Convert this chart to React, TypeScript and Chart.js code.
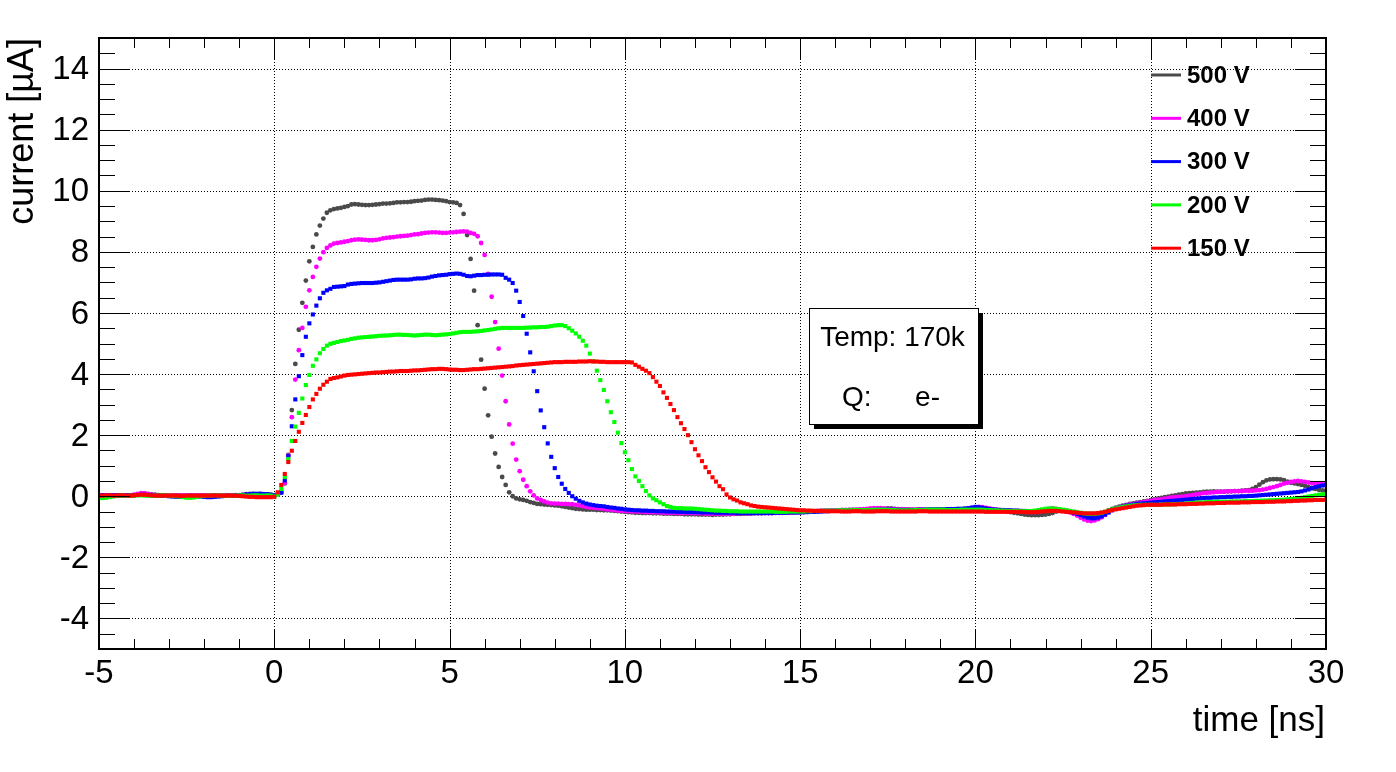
import { useEffect, useRef } from "react";
import { Chart, registerables } from "chart.js";

Chart.register(...registerables);

// ---------- data (time grid: -5.0 ns .. 30.0 ns, 0.1 ns steps) ----------
const T_START = -5;
const T_STEP = 0.1;

const SERIES_LABELS = ["500 V", "400 V", "300 V", "200 V", "150 V"];
const SERIES_COLORS = ["#4a4a4a", "#ff00ff", "#0000ff", "#00ff00", "#ff0000"];

const current500V = [
  0.02, 0.03, 0.03, 0.02, 0.03, 0.02, 0.02, 0.03, 0.03, 0.02,
  0.04, 0.06, 0.08, 0.09, 0.08, 0.06, 0.05, 0.04, 0.03, 0.03,
  0.02, 0.02, 0.03, 0.03, 0.02, 0.02, 0.03, 0.02, 0.02, 0.03,
  0.03, 0.02, 0.02, 0.03, 0.03, 0.02, 0.03, 0.02, 0.03, 0.04,
  0.04, 0.05, 0.07, 0.08, 0.08, 0.07, 0.08, 0.07, 0.06, 0.05,
  0.03, 0.08, 0.12, 0.42, 1.35, 2.82, 4.33, 5.45, 6.33, 7.06,
  7.69, 8.16, 8.57, 8.86, 9.09, 9.28, 9.36, 9.40, 9.42, 9.44,
  9.47, 9.50, 9.55, 9.56, 9.55, 9.54, 9.53, 9.53, 9.54, 9.55,
  9.56, 9.58, 9.58, 9.59, 9.60, 9.62, 9.62, 9.63, 9.63, 9.64,
  9.66, 9.67, 9.68, 9.70, 9.71, 9.71, 9.70, 9.69, 9.68, 9.66,
  9.63, 9.62, 9.60, 9.53, 9.24, 8.55, 7.77, 6.73, 5.60, 4.47,
  3.52, 2.65, 1.95, 1.40, 0.96, 0.63, 0.37, 0.13, 0.00, -0.07,
  -0.10, -0.12, -0.15, -0.19, -0.22, -0.25, -0.26, -0.27, -0.28, -0.29,
  -0.30, -0.31, -0.33, -0.35, -0.37, -0.39, -0.41, -0.42, -0.43, -0.44,
  -0.44, -0.44, -0.45, -0.45, -0.46, -0.46, -0.47, -0.48, -0.49, -0.50,
  -0.51, -0.52, -0.53, -0.54, -0.54, -0.55, -0.55, -0.55, -0.56, -0.56,
  -0.56, -0.57, -0.57, -0.57, -0.58, -0.58, -0.58, -0.59, -0.59, -0.59,
  -0.59, -0.60, -0.60, -0.60, -0.60, -0.61, -0.60, -0.60, -0.60, -0.59,
  -0.59, -0.58, -0.58, -0.58, -0.57, -0.57, -0.57, -0.56, -0.56, -0.56,
  -0.55, -0.55, -0.55, -0.54, -0.54, -0.54, -0.53, -0.53, -0.53, -0.52,
  -0.52, -0.52, -0.51, -0.51, -0.50, -0.50, -0.49, -0.48, -0.48, -0.47,
  -0.47, -0.46, -0.46, -0.46, -0.45, -0.45, -0.45, -0.44, -0.44, -0.44,
  -0.43, -0.42, -0.42, -0.41, -0.41, -0.40, -0.40, -0.41, -0.42, -0.42,
  -0.43, -0.43, -0.44, -0.44, -0.44, -0.45, -0.45, -0.45, -0.45, -0.44,
  -0.44, -0.43, -0.43, -0.42, -0.42, -0.42, -0.43, -0.43, -0.44, -0.44,
  -0.44, -0.43, -0.42, -0.42, -0.43, -0.44, -0.45, -0.46, -0.48, -0.50,
  -0.52, -0.54, -0.56, -0.58, -0.60, -0.61, -0.62, -0.62, -0.62, -0.61,
  -0.60, -0.58, -0.55, -0.50, -0.47, -0.46, -0.47, -0.49, -0.52, -0.55,
  -0.58, -0.62, -0.65, -0.67, -0.66, -0.63, -0.58, -0.52, -0.46, -0.41,
  -0.37, -0.34, -0.31, -0.28, -0.25, -0.23, -0.21, -0.19, -0.17, -0.15,
  -0.13, -0.10, -0.08, -0.05, -0.03, -0.01, 0.01, 0.03, 0.05, 0.07,
  0.09, 0.10, 0.11, 0.12, 0.13, 0.14, 0.15, 0.15, 0.16, 0.15,
  0.15, 0.15, 0.16, 0.16, 0.17, 0.17, 0.18, 0.19, 0.20, 0.24,
  0.30, 0.38, 0.46, 0.52, 0.55, 0.56, 0.56, 0.55, 0.53, 0.48,
  0.44, 0.42, 0.40, 0.37, 0.34, 0.30, 0.27, 0.24, 0.21, 0.19,
  0.18,
];

const current400V = [
  0.02, 0.03, 0.03, 0.02, 0.02, 0.03, 0.03, 0.02, 0.02, 0.03,
  0.05, 0.08, 0.10, 0.09, 0.07, 0.05, 0.04, 0.03, 0.03, 0.02,
  0.02, 0.03, 0.02, 0.02, 0.03, 0.03, 0.02, 0.02, 0.03, 0.03,
  0.02, 0.03, 0.03, 0.02, 0.02, 0.03, 0.03, 0.03, 0.02, 0.03,
  0.03, 0.04, 0.05, 0.05, 0.06, 0.05, 0.05, 0.04, 0.04, 0.03,
  0.02, 0.08, 0.13, 0.44, 1.33, 2.59, 3.82, 4.78, 5.51, 6.20,
  6.74, 7.18, 7.51, 7.78, 7.99, 8.13, 8.21, 8.27, 8.29, 8.31,
  8.33, 8.35, 8.38, 8.40, 8.41, 8.40, 8.39, 8.38, 8.38, 8.39,
  8.41, 8.44, 8.46, 8.47, 8.48, 8.50, 8.51, 8.52, 8.53, 8.55,
  8.57, 8.58, 8.60, 8.62, 8.63, 8.64, 8.64, 8.63, 8.62, 8.62,
  8.63, 8.64, 8.65, 8.66, 8.67, 8.66, 8.62, 8.59, 8.51, 8.29,
  7.90, 7.28, 6.53, 5.70, 4.83, 3.95, 3.11, 2.35, 1.72, 1.20,
  0.82, 0.54, 0.33, 0.16, 0.03, -0.07, -0.12, -0.17, -0.21, -0.23,
  -0.24, -0.24, -0.25, -0.25, -0.26, -0.26, -0.28, -0.30, -0.32, -0.35,
  -0.37, -0.38, -0.39, -0.40, -0.41, -0.43, -0.44, -0.46, -0.47, -0.48,
  -0.49, -0.49, -0.50, -0.50, -0.50, -0.51, -0.52, -0.52, -0.53, -0.53,
  -0.53, -0.54, -0.54, -0.54, -0.54, -0.55, -0.55, -0.55, -0.55, -0.55,
  -0.56, -0.56, -0.56, -0.57, -0.57, -0.57, -0.57, -0.57, -0.57, -0.57,
  -0.57, -0.57, -0.56, -0.56, -0.56, -0.56, -0.56, -0.55, -0.55, -0.55,
  -0.55, -0.55, -0.54, -0.54, -0.54, -0.54, -0.53, -0.53, -0.53, -0.53,
  -0.52, -0.52, -0.51, -0.50, -0.49, -0.48, -0.47, -0.46, -0.46, -0.46,
  -0.46, -0.46, -0.45, -0.45, -0.45, -0.44, -0.44, -0.43, -0.42, -0.41,
  -0.40, -0.39, -0.39, -0.39, -0.40, -0.41, -0.42, -0.42, -0.43, -0.43,
  -0.43, -0.44, -0.44, -0.44, -0.43, -0.43, -0.43, -0.44, -0.44, -0.44,
  -0.44, -0.44, -0.43, -0.43, -0.43, -0.43, -0.42, -0.41, -0.40, -0.38,
  -0.36, -0.35, -0.36, -0.38, -0.40, -0.42, -0.44, -0.45, -0.46, -0.47,
  -0.47, -0.48, -0.48, -0.49, -0.50, -0.51, -0.52, -0.52, -0.50, -0.47,
  -0.44, -0.41, -0.40, -0.41, -0.44, -0.47, -0.50, -0.53, -0.58, -0.63,
  -0.70, -0.76, -0.80, -0.81, -0.79, -0.75, -0.69, -0.61, -0.52, -0.45,
  -0.40, -0.36, -0.33, -0.30, -0.27, -0.25, -0.23, -0.21, -0.19, -0.17,
  -0.15, -0.13, -0.11, -0.10, -0.08, -0.06, -0.04, -0.03, -0.02, -0.01,
  0.00, 0.02, 0.04, 0.06, 0.08, 0.10, 0.11, 0.12, 0.13, 0.14,
  0.15, 0.15, 0.16, 0.16, 0.17, 0.17, 0.17, 0.18, 0.18, 0.18,
  0.19, 0.20, 0.22, 0.24, 0.27, 0.30, 0.33, 0.37, 0.41, 0.44,
  0.47, 0.49, 0.50, 0.49, 0.47, 0.45, 0.43, 0.42, 0.41, 0.40,
  0.40,
];

const current300V = [
  0.03, 0.03, 0.02, 0.02, 0.03, 0.03, 0.02, 0.02, 0.03, 0.03,
  0.03, 0.04, 0.05, 0.05, 0.04, 0.03, 0.02, 0.02, 0.01, 0.01,
  0.00, -0.01, -0.02, -0.02, -0.01, 0.00, 0.01, 0.01, 0.00, -0.01,
  -0.02, -0.03, -0.03, -0.02, -0.01, 0.00, 0.01, 0.02, 0.02, 0.02,
  0.03, 0.04, 0.06, 0.07, 0.08, 0.08, 0.08, 0.07, 0.07, 0.05,
  0.03, 0.07, 0.12, 0.52, 1.31, 2.29, 3.17, 3.93, 4.62, 5.22,
  5.66, 5.95, 6.24, 6.48, 6.66, 6.74, 6.79, 6.85, 6.86, 6.87,
  6.88, 6.93, 6.95, 6.96, 6.97, 6.98, 6.98, 6.98, 6.98, 6.99,
  7.00, 7.02, 7.04, 7.06, 7.08, 7.09, 7.09, 7.09, 7.09, 7.10,
  7.12, 7.13, 7.13, 7.14, 7.16, 7.19, 7.21, 7.23, 7.24, 7.25,
  7.27, 7.28, 7.29, 7.28, 7.25, 7.21, 7.20, 7.22, 7.24, 7.24,
  7.25, 7.25, 7.26, 7.26, 7.26, 7.25, 7.15, 7.09, 6.98, 6.73,
  6.36, 5.90, 5.32, 4.71, 4.09, 3.44, 2.81, 2.26, 1.73, 1.29,
  0.92, 0.63, 0.41, 0.24, 0.11, 0.00, -0.08, -0.15, -0.20, -0.24,
  -0.27, -0.29, -0.31, -0.32, -0.33, -0.35, -0.37, -0.38, -0.40, -0.41,
  -0.43, -0.44, -0.45, -0.46, -0.46, -0.47, -0.47, -0.48, -0.48, -0.49,
  -0.49, -0.49, -0.50, -0.50, -0.50, -0.51, -0.51, -0.51, -0.52, -0.52,
  -0.52, -0.52, -0.53, -0.53, -0.53, -0.53, -0.54, -0.54, -0.54, -0.54,
  -0.54, -0.54, -0.55, -0.55, -0.55, -0.55, -0.55, -0.55, -0.55, -0.55,
  -0.55, -0.55, -0.55, -0.54, -0.54, -0.54, -0.54, -0.53, -0.53, -0.53,
  -0.53, -0.52, -0.52, -0.51, -0.51, -0.50, -0.50, -0.49, -0.49, -0.48,
  -0.48, -0.48, -0.47, -0.47, -0.47, -0.46, -0.46, -0.46, -0.46, -0.45,
  -0.45, -0.45, -0.44, -0.44, -0.44, -0.44, -0.44, -0.44, -0.45, -0.45,
  -0.45, -0.45, -0.45, -0.45, -0.44, -0.44, -0.44, -0.43, -0.43, -0.43,
  -0.43, -0.43, -0.42, -0.42, -0.42, -0.41, -0.41, -0.40, -0.39, -0.37,
  -0.35, -0.36, -0.38, -0.40, -0.42, -0.43, -0.44, -0.45, -0.45, -0.46,
  -0.46, -0.47, -0.47, -0.48, -0.48, -0.49, -0.49, -0.49, -0.48, -0.47,
  -0.46, -0.45, -0.44, -0.44, -0.45, -0.47, -0.49, -0.51, -0.54, -0.58,
  -0.62, -0.66, -0.70, -0.72, -0.72, -0.70, -0.66, -0.60, -0.53, -0.46,
  -0.41, -0.37, -0.34, -0.31, -0.29, -0.27, -0.25, -0.24, -0.23, -0.22,
  -0.21, -0.20, -0.19, -0.18, -0.17, -0.16, -0.15, -0.14, -0.13, -0.12,
  -0.11, -0.10, -0.09, -0.08, -0.07, -0.06, -0.05, -0.05, -0.04, -0.04,
  -0.03, -0.03, -0.02, -0.02, -0.01, -0.01, 0.00, 0.00, 0.01, 0.01,
  0.02, 0.03, 0.04, 0.05, 0.06, 0.07, 0.08, 0.09, 0.10, 0.11,
  0.12, 0.13, 0.14, 0.16, 0.19, 0.22, 0.26, 0.30, 0.33, 0.35,
  0.37,
];

const current200V = [
  -0.05, -0.06, -0.05, -0.03, -0.01, 0.01, 0.02, 0.02, 0.01, 0.02,
  0.02, 0.03, 0.03, 0.02, 0.02, 0.01, 0.02, 0.02, 0.03, 0.02,
  0.02, 0.01, 0.00, -0.01, -0.03, -0.05, -0.05, -0.04, -0.02, 0.00,
  0.01, 0.02, 0.02, 0.03, 0.03, 0.02, 0.02, 0.01, 0.02, 0.02,
  0.03, 0.03, 0.02, 0.02, 0.03, 0.03, 0.02, 0.02, 0.03, 0.02,
  0.00, 0.05, 0.24, 0.63, 1.22, 1.81, 2.28, 2.73, 3.20, 3.64,
  3.97, 4.27, 4.48, 4.68, 4.82, 4.93, 4.99, 5.02, 5.05, 5.08,
  5.10, 5.12, 5.15, 5.17, 5.19, 5.20, 5.21, 5.22, 5.23, 5.24,
  5.25, 5.26, 5.26, 5.27, 5.28, 5.29, 5.29, 5.28, 5.28, 5.27,
  5.26, 5.27, 5.28, 5.29, 5.29, 5.28, 5.27, 5.28, 5.29, 5.30,
  5.31, 5.33, 5.35, 5.37, 5.38, 5.38, 5.38, 5.39, 5.40, 5.41,
  5.43, 5.44, 5.46, 5.48, 5.50, 5.51, 5.51, 5.51, 5.51, 5.51,
  5.51, 5.51, 5.52, 5.52, 5.53, 5.53, 5.54, 5.54, 5.55, 5.57,
  5.59, 5.60, 5.60, 5.57, 5.50, 5.42, 5.33, 5.22, 5.09, 4.93,
  4.67, 4.42, 4.11, 3.80, 3.48, 3.11, 2.75, 2.43, 2.08, 1.74,
  1.44, 1.18, 0.89, 0.65, 0.50, 0.33, 0.17, 0.03, -0.07, -0.13,
  -0.20, -0.26, -0.32, -0.35, -0.38, -0.39, -0.39, -0.40, -0.40, -0.40,
  -0.41, -0.42, -0.43, -0.44, -0.45, -0.46, -0.47, -0.47, -0.48, -0.48,
  -0.49, -0.49, -0.49, -0.50, -0.50, -0.50, -0.50, -0.50, -0.50, -0.50,
  -0.50, -0.50, -0.50, -0.51, -0.51, -0.51, -0.51, -0.50, -0.50, -0.50,
  -0.50, -0.50, -0.49, -0.49, -0.48, -0.48, -0.48, -0.47, -0.47, -0.47,
  -0.47, -0.46, -0.46, -0.46, -0.46, -0.45, -0.45, -0.45, -0.45, -0.45,
  -0.45, -0.44, -0.44, -0.44, -0.44, -0.45, -0.45, -0.45, -0.46, -0.46,
  -0.46, -0.46, -0.46, -0.45, -0.45, -0.45, -0.44, -0.44, -0.44, -0.44,
  -0.44, -0.44, -0.45, -0.45, -0.45, -0.45, -0.44, -0.44, -0.44, -0.44,
  -0.44, -0.44, -0.44, -0.45, -0.45, -0.46, -0.46, -0.47, -0.47, -0.48,
  -0.48, -0.48, -0.48, -0.49, -0.49, -0.49, -0.48, -0.47, -0.45, -0.43,
  -0.41, -0.40, -0.40, -0.41, -0.42, -0.44, -0.46, -0.48, -0.50, -0.52,
  -0.54, -0.56, -0.57, -0.57, -0.57, -0.56, -0.54, -0.51, -0.47, -0.43,
  -0.40, -0.37, -0.35, -0.33, -0.31, -0.30, -0.29, -0.28, -0.28, -0.28,
  -0.28, -0.28, -0.28, -0.27, -0.27, -0.27, -0.26, -0.26, -0.25, -0.25,
  -0.24, -0.23, -0.22, -0.21, -0.20, -0.20, -0.19, -0.19, -0.18, -0.18,
  -0.18, -0.18, -0.18, -0.17, -0.17, -0.17, -0.17, -0.16, -0.16, -0.16,
  -0.15, -0.15, -0.14, -0.14, -0.13, -0.13, -0.12, -0.12, -0.11, -0.10,
  -0.09, -0.08, -0.07, -0.05, -0.03, -0.01, 0.01, 0.03, 0.05, 0.06,
  0.07,
];

const current150V = [
  0.02, 0.02, 0.03, 0.03, 0.02, 0.02, 0.03, 0.03, 0.02, 0.02,
  0.03, 0.04, 0.05, 0.05, 0.04, 0.03, 0.02, 0.02, 0.02, 0.02,
  0.02, 0.02, 0.02, 0.01, 0.01, 0.02, 0.02, 0.02, 0.02, 0.02,
  0.02, 0.02, 0.02, 0.03, 0.02, 0.02, 0.02, 0.02, 0.02, 0.02,
  0.01, 0.00, -0.01, -0.02, -0.02, -0.03, -0.03, -0.03, -0.03, -0.03,
  -0.02, 0.13, 0.37, 0.73, 1.12, 1.49, 1.81, 2.11, 2.40, 2.66,
  2.92, 3.17, 3.35, 3.52, 3.65, 3.75, 3.84, 3.87, 3.89, 3.92,
  3.95, 3.97, 3.98, 3.99, 4.00, 4.01, 4.02, 4.03, 4.04, 4.05,
  4.05, 4.06, 4.07, 4.08, 4.08, 4.09, 4.10, 4.10, 4.10, 4.11,
  4.12, 4.12, 4.13, 4.14, 4.15, 4.16, 4.16, 4.17, 4.17, 4.16,
  4.15, 4.14, 4.14, 4.13, 4.13, 4.14, 4.15, 4.16, 4.16, 4.17,
  4.18, 4.19, 4.20, 4.21, 4.22, 4.23, 4.24, 4.25, 4.26, 4.28,
  4.29, 4.30, 4.31, 4.32, 4.33, 4.34, 4.35, 4.36, 4.37, 4.38,
  4.39, 4.39, 4.39, 4.40, 4.40, 4.40, 4.40, 4.41, 4.41, 4.41,
  4.42, 4.41, 4.41, 4.40, 4.40, 4.39, 4.39, 4.39, 4.39, 4.39,
  4.39, 4.39, 4.38, 4.30, 4.24, 4.17, 4.11, 4.03, 3.90, 3.75,
  3.61, 3.40, 3.22, 3.02, 2.82, 2.59, 2.39, 2.20, 2.00, 1.77,
  1.54, 1.34, 1.15, 0.95, 0.79, 0.62, 0.48, 0.33, 0.23, 0.06,
  -0.04, -0.10, -0.14, -0.20, -0.23, -0.26, -0.30, -0.32, -0.34, -0.35,
  -0.36, -0.37, -0.38, -0.39, -0.40, -0.41, -0.42, -0.43, -0.44, -0.45,
  -0.46, -0.46, -0.47, -0.47, -0.48, -0.48, -0.48, -0.49, -0.49, -0.49,
  -0.49, -0.49, -0.50, -0.50, -0.50, -0.49, -0.49, -0.49, -0.50, -0.50,
  -0.50, -0.50, -0.49, -0.49, -0.49, -0.49, -0.50, -0.50, -0.50, -0.50,
  -0.50, -0.50, -0.50, -0.50, -0.49, -0.49, -0.49, -0.50, -0.50, -0.50,
  -0.50, -0.50, -0.50, -0.50, -0.50, -0.50, -0.50, -0.50, -0.50, -0.50,
  -0.50, -0.50, -0.50, -0.51, -0.51, -0.51, -0.51, -0.51, -0.51, -0.51,
  -0.51, -0.51, -0.51, -0.51, -0.52, -0.52, -0.52, -0.52, -0.51, -0.50,
  -0.49, -0.48, -0.48, -0.48, -0.49, -0.50, -0.51, -0.52, -0.53, -0.54,
  -0.55, -0.56, -0.56, -0.56, -0.56, -0.55, -0.53, -0.51, -0.48, -0.45,
  -0.43, -0.41, -0.39, -0.37, -0.35, -0.33, -0.31, -0.30, -0.29, -0.28,
  -0.28, -0.28, -0.28, -0.28, -0.27, -0.27, -0.27, -0.27, -0.26, -0.26,
  -0.26, -0.25, -0.25, -0.25, -0.24, -0.24, -0.23, -0.23, -0.23, -0.22,
  -0.22, -0.22, -0.21, -0.21, -0.21, -0.21, -0.20, -0.20, -0.20, -0.19,
  -0.19, -0.19, -0.19, -0.18, -0.18, -0.18, -0.17, -0.17, -0.17, -0.16,
  -0.16, -0.15, -0.15, -0.14, -0.14, -0.13, -0.13, -0.12, -0.12, -0.12,
  -0.11,
];

const X_MIN = -5;
const X_MAX = 30;
const Y_MIN = -5;
const Y_MAX = 15;
const X_TICK_LABELS = [-5, 0, 5, 10, 15, 20, 25, 30];
const Y_TICK_LABELS = [-4, -2, 0, 2, 4, 6, 8, 10, 12, 14];

const X_TITLE = "time [ns]";
const Y_TITLE = "current [\u00b5A]";
const INFO_LINE_1 = "Temp: 170k";
const INFO_Q_LABEL = "Q:";
const INFO_Q_VALUE = "e-";

const SERIES_VALUES = [current500V, current400V, current300V, current200V, current150V];

const FONT = '"Liberation Sans", Arial, Helvetica, sans-serif';

const rootStylePlugin = {
  id: "rootStyle",
  beforeDraw(chart: any) {
    const { ctx, width, height } = chart;
    ctx.save();
    ctx.fillStyle = "#ffffff";
    ctx.fillRect(0, 0, width, height);
    ctx.restore();
  },
  beforeDatasetsDraw(chart: any) {
    const { ctx, chartArea: a } = chart;
    const xs = chart.scales.x;
    const ys = chart.scales.y;
    ctx.save();
    ctx.strokeStyle = "#000";
    ctx.lineWidth = 1;
    ctx.setLineDash([1, 2]);
    for (const v of X_TICK_LABELS) {
      const px = Math.round(xs.getPixelForValue(v)) + 0.5;
      ctx.beginPath();
      ctx.moveTo(px, a.top);
      ctx.lineTo(px, a.bottom);
      ctx.stroke();
    }
    for (const v of Y_TICK_LABELS) {
      const py = Math.round(ys.getPixelForValue(v)) + 0.5;
      ctx.beginPath();
      ctx.moveTo(a.left, py);
      ctx.lineTo(a.right, py);
      ctx.stroke();
    }
    ctx.restore();
  },
  afterDatasetsDraw(chart: any) {
    const { ctx, chartArea: a } = chart;
    const xs = chart.scales.x;
    const ys = chart.scales.y;
    ctx.save();
    ctx.setLineDash([]);
    ctx.strokeStyle = "#000";

    // ticks (inside, all four sides)
    ctx.lineWidth = 1;
    ctx.beginPath();
    for (let k = X_MIN; k <= X_MAX; k += 1) {
      const px = Math.round(xs.getPixelForValue(k)) + 0.5;
      const major = k % 5 === 0;
      const lb = major ? 20 : 10;
      const lt = major ? 21 : 10;
      ctx.moveTo(px, a.bottom);
      ctx.lineTo(px, a.bottom - lb);
      ctx.moveTo(px, a.top);
      ctx.lineTo(px, a.top + lt);
    }
    for (let k = Y_MIN * 2; k <= Y_MAX * 2; k += 1) {
      const v = k / 2;
      const py = Math.round(ys.getPixelForValue(v)) + 0.5;
      const major = Number.isInteger(v) && v % 2 === 0;
      const len = major ? 31 : 16;
      ctx.moveTo(a.left, py);
      ctx.lineTo(a.left + len, py);
      ctx.moveTo(a.right, py);
      ctx.lineTo(a.right - len, py);
    }
    ctx.stroke();

    // frame
    ctx.lineWidth = 2;
    ctx.strokeRect(a.left, a.top, a.right - a.left, a.bottom - a.top);

    // tick labels
    ctx.fillStyle = "#000";
    ctx.font = `33px ${FONT}`;
    ctx.textAlign = "center";
    ctx.textBaseline = "alphabetic";
    for (const v of X_TICK_LABELS) {
      ctx.fillText(String(v), xs.getPixelForValue(v), a.bottom + 34);
    }
    ctx.textAlign = "right";
    ctx.textBaseline = "middle";
    for (const v of Y_TICK_LABELS) {
      ctx.fillText(String(v), a.left - 10, ys.getPixelForValue(v) + 1.5);
    }

    // axis titles
    ctx.font = `35px ${FONT}`;
    ctx.textAlign = "right";
    ctx.textBaseline = "alphabetic";
    ctx.fillText(X_TITLE, a.right - 1, 731);
    ctx.save();
    ctx.font = `36px ${FONT}`;
    ctx.translate(33, a.top);
    ctx.rotate(-Math.PI / 2);
    ctx.textAlign = "right";
    ctx.fillText(Y_TITLE, 0, 0);
    ctx.restore();

    // legend
    ctx.font = `bold 24px ${FONT}`;
    ctx.textAlign = "left";
    ctx.textBaseline = "middle";
    SERIES_LABELS.forEach((label, i) => {
      const ly = 75 + i * 43.3;
      ctx.strokeStyle = SERIES_COLORS[i];
      ctx.lineWidth = 3;
      ctx.beginPath();
      ctx.moveTo(1151, ly);
      ctx.lineTo(1181, ly);
      ctx.stroke();
      ctx.fillStyle = "#000";
      ctx.fillText(label, 1187, ly + 1);
    });

    // info box with shadow
    const bx = 809, by = 308, bw = 169, bh = 116;
    ctx.fillStyle = "#000";
    ctx.fillRect(bx + 5, by + 5, bw, bh);
    ctx.fillStyle = "#fff";
    ctx.fillRect(bx, by, bw, bh);
    ctx.strokeStyle = "#000";
    ctx.lineWidth = 1;
    ctx.strokeRect(bx + 0.5, by + 0.5, bw, bh);
    ctx.fillStyle = "#000";
    ctx.font = `28px ${FONT}`;
    ctx.textAlign = "center";
    ctx.textBaseline = "alphabetic";
    ctx.fillText(INFO_LINE_1, bx + bw / 2 - 1, 346);
    ctx.textAlign = "left";
    ctx.fillText(INFO_Q_LABEL, 842, 406);
    ctx.textAlign = "right";
    ctx.fillText(INFO_Q_VALUE, 940, 406);

    ctx.restore();
  },
};

export default function App() {
  const canvasRef = useRef<HTMLCanvasElement | null>(null);

  useEffect(() => {
    const canvas = canvasRef.current;
    if (!canvas) return;
    const times = current500V.map((_, i) => Math.round((T_START + i * T_STEP) * 10) / 10);
    const order = [4, 3, 2, 1, 0]; // 150 V drawn on top
    const datasets = order.map((si) => {
      const color = SERIES_COLORS[si];
      const round = si <= 1;
      const r = round ? 2.4 : 2.9;
      return {
        label: SERIES_LABELS[si],
        data: times.map((t, i) => ({ x: t, y: SERIES_VALUES[si][i] })),
        showLine: false,
        pointStyle: round ? "circle" : "rect",
        pointRadius: r,
        pointHoverRadius: r,
        pointBorderWidth: 0,
        backgroundColor: color,
        borderColor: color,
        pointBackgroundColor: color,
      };
    });
    const chart = new Chart(canvas, {
      type: "scatter",
      data: { datasets } as any,
      options: {
        animation: false,
        responsive: false,
        devicePixelRatio: 1,
        events: [],
        layout: { padding: { left: 99, right: 70, top: 38, bottom: 123 } },
        scales: {
          x: { type: "linear", min: X_MIN, max: X_MAX, display: false },
          y: { type: "linear", min: Y_MIN, max: Y_MAX, display: false },
        },
        plugins: { legend: { display: false }, tooltip: { enabled: false } },
      } as any,
      plugins: [rootStylePlugin],
    });
    return () => chart.destroy();
  }, []);

  return (
    <div style={{ position: "fixed", left: 0, top: 0, width: 1396, height: 772, background: "#fff" }}>
      <canvas ref={canvasRef} width={1396} height={772} style={{ display: "block", width: 1396, height: 772 }} />
    </div>
  );
}
